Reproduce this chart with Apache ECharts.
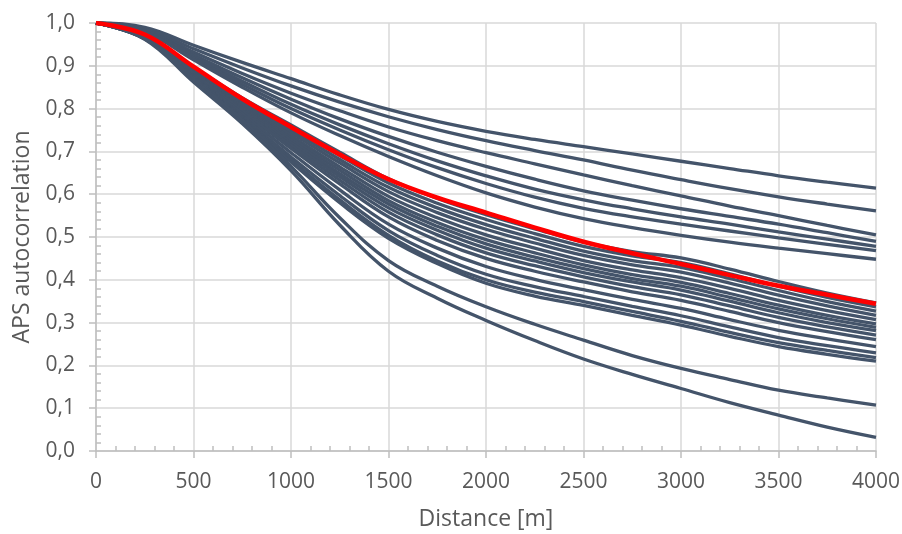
<!DOCTYPE html>
<html><head><meta charset="utf-8">
<script src="https://cdn.jsdelivr.net/npm/echarts@6/dist/echarts.min.js"></script>
<style>html,body{margin:0;padding:0;background:#fff}#c{width:902px;height:534px}</style>
</head><body><div id="c"></div>
<script>
// Distance [m]
const distances = [0,250,500,750,1000,1250,1500,1750,2000,2250,2500,2750,3000,3250,3500,3750,4000];

// highlighted (red) curve
const redCurve = [1,.973,.898,.823,.757,.693,.635,.592,.557,.522,.489,.462,.437,.411,.386,.365,.344];

// upper group of grey curves
const upper1 = [1,.99,.948,.908,.870,.832,.798,.77,.747,.728,.711,.694,.677,.66,.643,.628,.614];
const upper2 = [1,.987,.94,.895,.853,.815,.781,.751,.725,.702,.68,.656,.634,.613,.594,.577,.561];
const upper3 = [1,.985,.932,.882,.836,.795,.757,.725,.697,.671,.645,.62,.596,.572,.55,.527,.505];
const upper4 = [1,.983,.926,.872,.822,.776,.735,.698,.665,.635,.608,.586,.566,.548,.53,.51,.49];
const upper5 = [1,.982,.922,.864,.81,.762,.718,.678,.643,.612,.587,.566,.547,.53,.512,.495,.478];
const upper6 = [1,.98,.918,.857,.80,.75,.704,.662,.625,.593,.567,.547,.53,.514,.498,.483,.468];
const upper7 = [1,.979,.914,.85,.79,.737,.688,.643,.603,.57,.543,.522,.504,.488,.474,.461,.448];

// central bundle of grey curves
const mid1  = [1,.972,.897,.825,.762,.698,.636,.59,.552,.519,.488,.466,.451,.425,.396,.369,.346];
const mid2  = [1,.971,.895,.822,.756,.690,.626,.579,.541,.508,.478,.456,.440,.414,.385,.359,.337];
const mid3  = [1,.970,.893,.818,.750,.681,.616,.568,.529,.497,.467,.445,.429,.403,.375,.349,.327];
const mid4  = [1,.969,.892,.815,.744,.673,.606,.557,.518,.486,.457,.435,.418,.392,.364,.339,.317];
const mid5  = [1,.968,.890,.811,.737,.664,.595,.545,.505,.474,.445,.423,.405,.380,.352,.328,.307];
const mid6  = [1,.968,.888,.807,.731,.656,.585,.534,.494,.463,.435,.412,.394,.368,.341,.317,.297];
const mid7  = [1,.967,.887,.804,.726,.648,.577,.525,.484,.453,.426,.403,.385,.359,.332,.309,.289];
const mid8  = [1,.967,.885,.801,.720,.641,.568,.516,.474,.444,.417,.395,.376,.350,.323,.300,.281];
const mid9  = [1,.966,.883,.798,.714,.633,.558,.505,.463,.433,.407,.384,.365,.339,.312,.290,.271];
const mid10 = [1,.966,.881,.794,.707,.624,.547,.492,.450,.420,.395,.372,.352,.326,.300,.279,.260];
const mid11 = [1,.965,.878,.788,.697,.610,.530,.474,.431,.401,.377,.354,.333,.307,.282,.262,.244];
const mid12 = [1,.964,.876,.782,.687,.597,.515,.457,.413,.384,.361,.338,.316,.290,.265,.246,.229];
const mid13 = [1,.963,.874,.778,.680,.587,.504,.444,.400,.371,.349,.326,.303,.277,.253,.235,.218];
const mid14 = [1,.963,.872,.775,.675,.580,.497,.438,.392,.362,.340,.317,.294,.268,.244,.226,.210];

// two lowest grey curves
const low1 = [1,.964,.868,.773,.665,.545,.445,.385,.337,.296,.259,.223,.193,.167,.142,.124,.107];
const low2 = [1,.962,.862,.765,.655,.528,.42,.357,.305,.258,.215,.179,.146,.113,.084,.056,.032];

const greyCurves = [upper1,upper2,upper3,upper4,upper5,upper6,upper7,
  mid1,mid2,mid3,mid4,mid5,mid6,mid7,mid8,mid9,mid10,mid11,mid12,mid13,mid14,low1,low2];

const yTickLabels = ['0,0','0,1','0,2','0,3','0,4','0,5','0,6','0,7','0,8','0,9','1,0'];
const xTitle = 'Distance [m]';
const yTitle = 'APS autocorrelation';

const FONT = 'Open Sans';
const TXT = '#595959';
const AX = '#BFBFBF';
const GRIDC = '#D9D9D9';

function pairs(arr){ return distances.map((d,i)=>[d,arr[i]]); }

const series = greyCurves.map((c)=>({
  type:'line', data:pairs(c), showSymbol:false, smooth:0.4,
  lineStyle:{color:'#44546A', width:3.3}, z:2, silent:true
}));
series.push({type:'line', data:pairs(redCurve), showSymbol:false, smooth:0.4,
  lineStyle:{color:'#FF0000', width:4.5}, z:3, silent:true});

const chart = echarts.init(document.getElementById('c'), null, {renderer:'canvas'});
chart.setOption({
  animation:false,
  backgroundColor:'#fff',
  textStyle:{fontFamily:FONT},
  grid:{left:96, right:26, top:23, bottom:83, containLabel:false, outerBoundsMode:'none'},
  xAxis:[
    {type:'value', min:0, max:4000, interval:500, position:'bottom',
     name:xTitle, nameLocation:'middle', nameGap:57,
     nameTextStyle:{fontFamily:FONT, fontSize:23, color:TXT},
     axisLine:{onZero:false, lineStyle:{color:AX, width:1.5}},
     axisTick:{show:true, length:7, lineStyle:{color:AX, width:1.5}},
     axisLabel:{fontFamily:FONT, fontSize:21, color:TXT, margin:21, formatter:(v)=>String(v)},
     splitLine:{show:true, lineStyle:{color:GRIDC, width:1.5}},
     minorTick:{show:false}},
    {type:'value', min:0, max:4000, interval:500, position:'bottom',
     axisLine:{show:false, onZero:false}, axisTick:{show:false, inside:true},
     axisLabel:{show:false}, splitLine:{show:false},
     minorTick:{show:true, splitNumber:5, length:5, lineStyle:{color:AX, width:1.5}}}
  ],
  yAxis:[
    {type:'value', min:0, max:1, interval:0.1, position:'left',
     name:yTitle, nameLocation:'middle', nameGap:62,
     nameTextStyle:{fontFamily:FONT, fontSize:23, color:TXT},
     axisLine:{show:true, onZero:false, lineStyle:{color:AX, width:1.5}},
     axisTick:{show:true, length:7, lineStyle:{color:AX, width:1.5}},
     axisLabel:{fontFamily:FONT, fontSize:21, color:TXT, margin:21,
       formatter:(v)=>yTickLabels[Math.round(v*10)]},
     splitLine:{show:true, lineStyle:{color:GRIDC, width:1.5}},
     minorTick:{show:false}},
    {type:'value', min:0, max:1, interval:0.1, position:'left',
     axisLine:{show:false, onZero:false}, axisTick:{show:false, inside:true},
     axisLabel:{show:false}, splitLine:{show:false},
     minorTick:{show:true, splitNumber:5, length:5, lineStyle:{color:AX, width:1.5}}}
  ],
  series:series
});
</script>
</body></html>
